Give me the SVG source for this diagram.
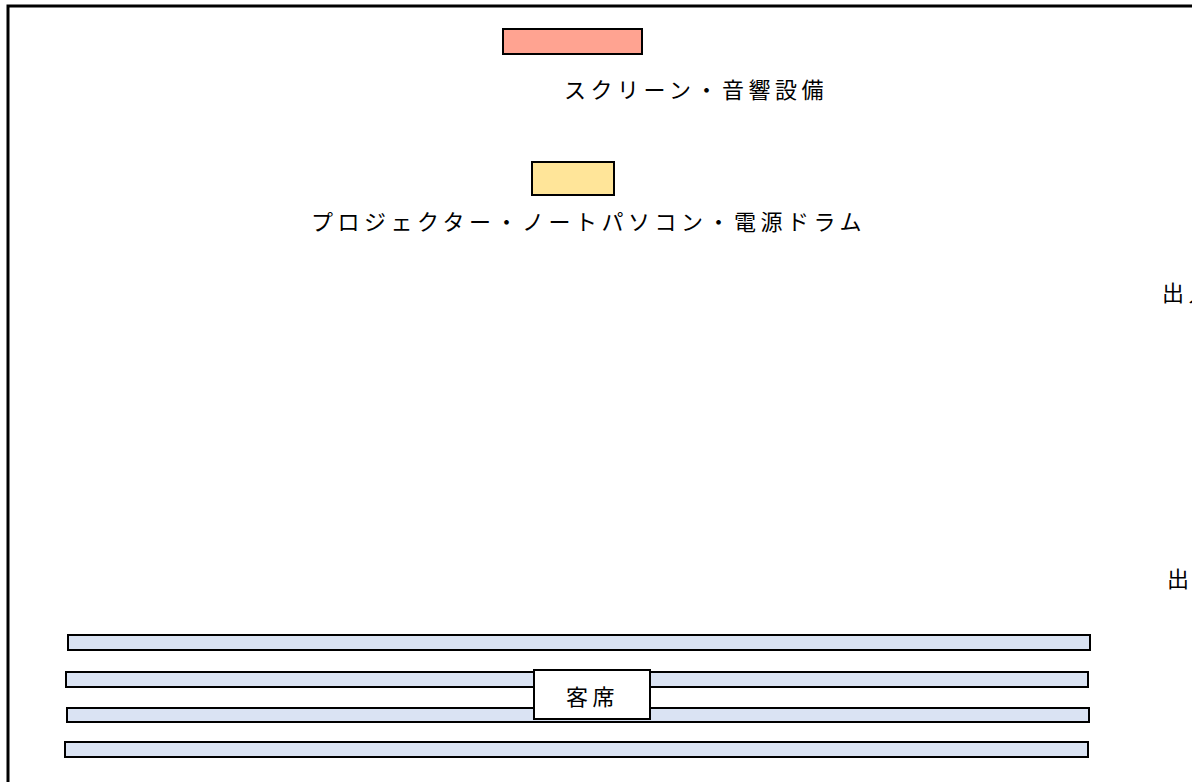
<svg xmlns="http://www.w3.org/2000/svg" width="1192" height="782" viewBox="0 0 1192 782">
<style>
text{font-family:"Noto Sans CJK JP","Noto Sans CJK SC",sans-serif;font-size:22px;fill:#000;letter-spacing:4.5px}
.box{stroke:#000;stroke-width:2}
.seat{fill:#DAE3F3;stroke:#000;stroke-width:2}
</style>
<rect width="1192" height="782" fill="#fff"/>
<g id="frame"><path d="M8 782 V6 H1192" fill="none" stroke="#000" stroke-width="3"/></g>
<g id="screen"><rect class="box" x="503" y="29" width="139" height="25" fill="#FFA391"/><text x="564" y="98">スクリーン・音響設備</text></g>
<g id="projector"><rect class="box" x="532" y="162" width="82" height="33" fill="#FFE599"/><text x="311" y="230">プロジェクター・ノートパソコン・電源ドラム</text></g>
<g id="exit1"><text x="1162" y="301">出入口</text></g>
<g id="exit2"><text x="1167" y="587">出入口</text></g>
<g id="seats">
<rect class="seat" x="68" y="635" width="1022" height="15"/>
<rect class="seat" x="66" y="672" width="1022" height="15"/>
<rect class="seat" x="67" y="708" width="1022" height="14"/>
<rect class="seat" x="65" y="742" width="1023" height="15"/>
<rect class="box" x="534" y="670" width="116" height="49" fill="#fff"/>
<text x="566" y="705">客席</text>
</g>
<g id="connectors"></g>
</svg>
